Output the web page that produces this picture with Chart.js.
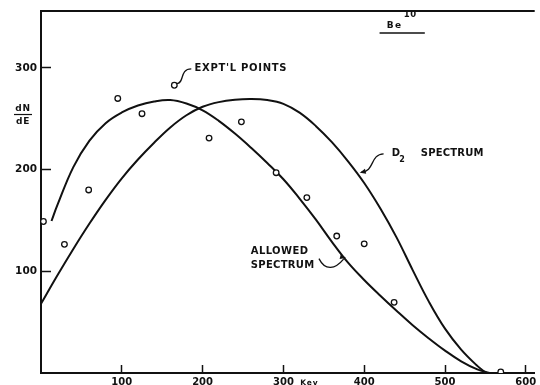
<!DOCTYPE html>
<html>
<head>
<meta charset="utf-8">
<script src="https://cdn.jsdelivr.net/npm/chart.js@4.4.1/dist/chart.umd.min.js"></script>
<style>
html, body { margin: 0; padding: 0; background: #fff; }
canvas { display: block; }
</style>
</head>
<body>
<canvas id="canvas" width="540" height="385"></canvas>
<script>
// experimental points (energy in Kev, dN/dE)
var pointsE = [3, 29, 59, 95, 125, 165, 208, 248, 291, 329, 366, 400, 437, 569];
var pointsN = [149, 126.5, 180, 270, 255, 283, 231, 247, 197, 172.5, 134.7, 127, 69.5, 1];

// allowed spectrum
var allowedE = [13, 20, 40, 60, 80, 100, 120, 140, 160, 180, 200, 220, 240, 260, 280, 300, 320, 340, 360, 380, 400, 420, 440, 460, 480, 500, 520, 540, 555];
var allowedN = [149.5, 164.5, 202.5, 228.5, 245.7, 256.2, 263, 267, 268.4, 265, 258.3, 248, 235.5, 221.5, 206.5, 190.5, 171.5, 151, 129, 108.5, 91.5, 76, 61.2, 47, 34, 22, 11.5, 3.5, 0];

// D2 spectrum
var d2E = [0, 20, 40, 60, 80, 100, 120, 140, 160, 180, 200, 220, 240, 260, 280, 300, 320, 340, 360, 380, 400, 420, 440, 460, 480, 500, 520, 540, 551];
var d2N = [68, 95.6, 122, 147, 170.3, 191.5, 210, 226.5, 241.5, 253.5, 261.8, 266.4, 268.7, 269.4, 268.4, 264.7, 256, 243, 227, 208.2, 186.9, 161.8, 133.4, 101.2, 70.2, 43.6, 23, 7, 0];

// tick labels
var xTicks = [100, 200, 300, 400, 500, 600];
var yTicks = [100, 200, 300];

function pairs(xs, ys) {
    return xs.map(function (v, i) { return { x: v, y: ys[i] }; });
}

var ink = '#111';
var fam = "'DejaVu Sans', sans-serif";

function label(ctx, txt, x, y, size, spacing, align) {
    ctx.font = 'bold ' + size + 'px ' + fam;
    ctx.letterSpacing = (spacing || 0) + 'px';
    ctx.textAlign = align || 'left';
    ctx.fillText(txt, x, y);
}

function noPad(scale) {
    scale.paddingLeft = 0;
    scale.paddingRight = 0;
    scale.paddingTop = 0;
    scale.paddingBottom = 0;
}

// labels, leaders and top frame line
var notes = {
    id: 'notes',
    afterDraw: function (chart) {
        var ctx = chart.ctx, a = chart.chartArea;
        var xs = chart.scales.x, ys = chart.scales.y;
        function X(e) { return xs.getPixelForValue(e); }
        function Y(n) { return ys.getPixelForValue(n); }
        function squiggle(p) {
            ctx.beginPath();
            ctx.moveTo(X(p[0][0]), Y(p[0][1]));
            ctx.bezierCurveTo(X(p[1][0]), Y(p[1][1]), X(p[2][0]), Y(p[2][1]), X(p[3][0]), Y(p[3][1]));
            ctx.stroke();
        }
        function arrow(e, n, dx, dy) {
            var x = X(e), y = Y(n);
            var len = Math.sqrt(dx * dx + dy * dy);
            dx /= len; dy /= len;
            ctx.beginPath();
            ctx.moveTo(x, y);
            ctx.lineTo(x - dx * 6 - dy * 2.5, y - dy * 6 + dx * 2.5);
            ctx.lineTo(x - dx * 6 + dy * 2.5, y - dy * 6 - dx * 2.5);
            ctx.closePath();
            ctx.fill();
        }

        ctx.save();
        ctx.strokeStyle = ink;
        ctx.fillStyle = ink;
        ctx.lineWidth = 2;
        ctx.beginPath();
        ctx.moveTo(a.left - 1, a.top);
        ctx.lineTo(a.right, a.top);
        ctx.stroke();

        ctx.textBaseline = 'middle';
        ctx.lineWidth = 1.3;

        // EXPT'L POINTS
        label(ctx, "EXPT'L POINTS", X(190), Y(299.5), 10, 0.7);
        squiggle([[168, 284.5], [178, 285], [171, 299], [186, 299]]);

        // Be10
        label(ctx, 'Be', X(428), Y(342), 9, 1.2);
        label(ctx, '10', X(449), Y(352), 8.5, 0.5);
        ctx.lineWidth = 1.5;
        ctx.beginPath();
        ctx.moveTo(X(419), Y(334.3));
        ctx.lineTo(X(475), Y(334.3));
        ctx.stroke();
        ctx.lineWidth = 1.3;

        // D2 SPECTRUM
        label(ctx, 'D', X(434), Y(216.3), 10, 0);
        label(ctx, '2', X(443.5), Y(209.5), 8, 0);
        label(ctx, 'SPECTRUM', X(470), Y(216), 10, 0.2);
        squiggle([[396.5, 197.5], [413, 198], [407, 215], [424, 215.5]]);
        arrow(394.5, 197, -1, 0.25);

        // ALLOWED SPECTRUM
        label(ctx, 'ALLOWED', X(259.6), Y(119.7), 10, 0.4);
        label(ctx, 'SPECTRUM', X(259.6), Y(105.9), 10, 0.3);
        squiggle([[344, 112.5], [352, 100], [364, 102], [374.5, 112]]);
        arrow(377.5, 113, 1, 0.25);

        // y axis title dN/dE
        var cx = a.left - 18;
        label(ctx, 'dN', cx, Y(260.3), 9, 0.8, 'center');
        ctx.lineWidth = 1.2;
        ctx.beginPath();
        ctx.moveTo(cx - 9, Y(254.2));
        ctx.lineTo(cx + 9, Y(254.2));
        ctx.stroke();
        label(ctx, 'dE', cx, Y(247), 9, 0.8, 'center');

        // x axis unit
        ctx.textBaseline = 'top';
        label(ctx, 'Kev', X(321), a.bottom + 6, 7.5, 0.8);
        ctx.restore();
    }
};

var ctx = document.getElementById('canvas').getContext('2d');
var myChart = new Chart(ctx, {
    type: 'scatter',
    data: {
        datasets: [
            {
                label: "Expt'l points",
                data: pairs(pointsE, pointsN),
                pointRadius: 2.8,
                pointBorderWidth: 1.3,
                pointBorderColor: ink,
                pointBackgroundColor: '#fff',
                order: 0
            },
            {
                label: 'Allowed spectrum',
                data: pairs(allowedE, allowedN),
                showLine: true,
                borderColor: ink,
                borderWidth: 2,
                pointRadius: 0,
                tension: 0.4,
                order: 1
            },
            {
                label: 'D2 spectrum',
                data: pairs(d2E, d2N),
                showLine: true,
                borderColor: ink,
                borderWidth: 2,
                pointRadius: 0,
                tension: 0.4,
                order: 2
            }
        ]
    },
    options: {
        responsive: false,
        animation: false,
        devicePixelRatio: 1,
        layout: { padding: { top: 11, right: 0, bottom: 0, left: 0 } },
        plugins: {
            legend: { display: false },
            tooltip: { enabled: false }
        },
        scales: {
            x: {
                type: 'linear',
                min: 0,
                max: 611,
                afterBuildTicks: function (scale) {
                    scale.ticks = xTicks.map(function (v) { return { value: v }; });
                },
                afterFit: function (scale) { scale.height = 12; noPad(scale); },
                grid: {
                    drawOnChartArea: false,
                    tickLength: -8,
                    tickWidth: 1.5,
                    tickColor: ink
                },
                border: { display: true, color: ink, width: 2 },
                ticks: {
                    color: ink,
                    padding: 11,
                    maxRotation: 0,
                    autoSkip: false,
                    font: { family: fam, weight: 'bold', size: 10 }
                }
            },
            y: {
                type: 'linear',
                min: 0,
                max: 356,
                afterBuildTicks: function (scale) {
                    scale.ticks = yTicks.map(function (v) { return { value: v }; });
                },
                afterFit: function (scale) { scale.width = 41; noPad(scale); },
                grid: {
                    drawOnChartArea: false,
                    tickLength: -10,
                    tickWidth: 1.5,
                    tickColor: ink
                },
                border: { display: true, color: ink, width: 2 },
                ticks: {
                    color: ink,
                    padding: 14,
                    autoSkip: false,
                    font: { family: fam, weight: 'bold', size: 10.5 }
                }
            }
        }
    },
    plugins: [notes]
});
</script>
</body>
</html>
